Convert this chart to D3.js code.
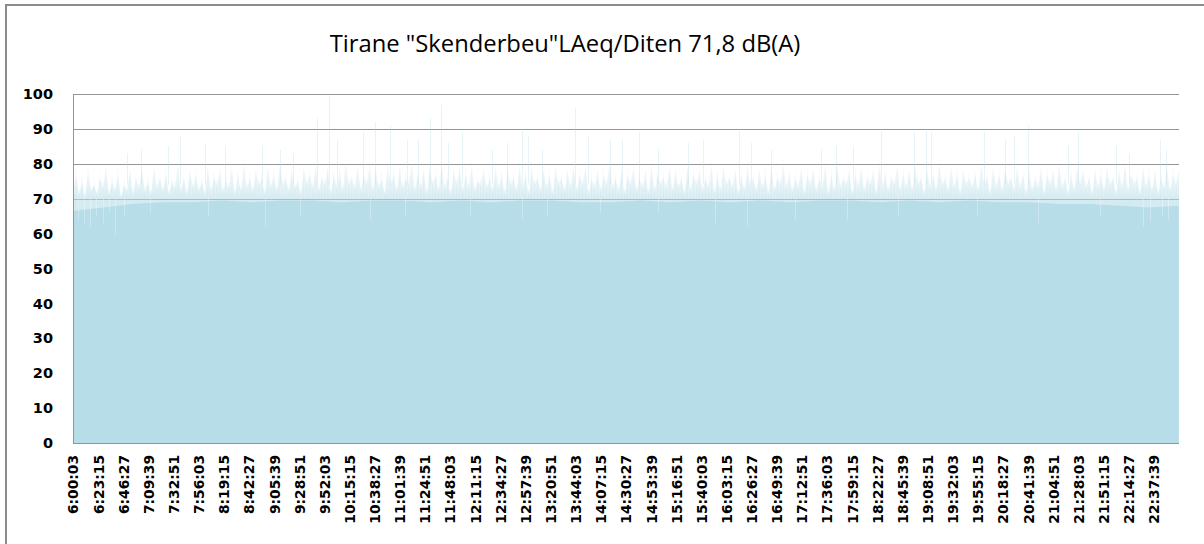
<!DOCTYPE html>
<html>
<head>
<meta charset="utf-8">
<script src="https://cdn.jsdelivr.net/npm/d3@7.9.0/dist/d3.min.js"></script>
<style>
  html, body { margin: 0; padding: 0; background: #fff; }
  svg { display: block; }
</style>
</head>
<body>
<div id="chart"></div>
<script>
/* ------------------------------
 Data
------------------------------ */
const title = 'Tirane "Skenderbeu"LAeq/Diten 71,8 dB(A)';

const tickLabels = [
  "6:00:03", "6:23:15", "6:46:27", "7:09:39", "7:32:51", "7:56:03", "8:19:15", "8:42:27",
  "9:05:39", "9:28:51", "9:52:03", "10:15:15", "10:38:27", "11:01:39", "11:24:51", "11:48:03",
  "12:11:15", "12:34:27", "12:57:39", "13:20:51", "13:44:03", "14:07:15", "14:30:27", "14:53:39",
  "15:16:51", "15:40:03", "16:03:15", "16:26:27", "16:49:39", "17:12:51", "17:36:03", "17:59:15",
  "18:22:27", "18:45:39", "19:08:51", "19:32:03", "19:55:15", "20:18:27", "20:41:39", "21:04:51",
  "21:28:03", "21:51:15", "22:14:27", "22:37:39"
];

const yTicks = [0, 10, 20, 30, 40, 50, 60, 70, 80, 90, 100];

// lower (solid) level, one reading every 1655 s from 6:00:03
const FLOOR_STEP = 1655;
const floorDb = [
  66.5, 67.5, 68.5, 69, 69, 69.5, 69, 69.5, 69.5, 69, 69.5, 69.5, 69, 69.5, 69, 69.5, 69.5, 69, 69,
  69.5, 69, 69.5, 69, 69.5, 69, 69.5, 69.5, 69, 69.5, 69, 69.5, 69, 69, 68.5, 68.5, 68, 67.5, 68
];

// short-term level, one reading every 166 s from 6:00:03
const LEVEL_STEP = 166;
const levelDb = [
  72, 77, 71, 75, 70, 78, 72, 74, 71, 76, 73, 79, 71, 75, 72, 77, 70, 74, 72, 78,
  71, 76, 73, 78, 72, 75, 71, 79, 73, 76, 72, 77, 71, 75, 73, 80, 72, 76, 71, 78,
  73, 77, 72, 75, 71, 79, 72, 76, 74, 78, 72, 75, 73, 79, 71, 77, 72, 80, 73, 76,
  72, 78, 74, 76, 71, 79, 73, 77, 72, 80, 74, 76, 72, 78, 73, 75, 71, 79, 74, 77,
  73, 80, 72, 76, 74, 79, 71, 77, 73, 78, 72, 81, 74, 76, 73, 79, 72, 77, 74, 80,
  72, 78, 73, 76, 71, 80, 74, 77, 72, 79, 73, 76, 74, 81, 72, 77, 73, 78, 71, 79,
  74, 77, 72, 80, 73, 76, 71, 78, 74, 79, 72, 77, 73, 80, 72, 75, 74, 78, 73, 76,
  72, 79, 73, 77, 71, 78, 74, 76, 72, 80, 73, 77, 71, 79, 74, 76, 72, 78, 73, 77,
  71, 79, 74, 76, 72, 78, 73, 80, 72, 77, 74, 79, 71, 76, 73, 78, 72, 77, 74, 80,
  73, 76, 72, 78, 71, 77, 74, 79, 72, 76, 73, 78, 71, 80, 72, 77, 74, 76, 73, 79,
  72, 78, 73, 76, 71, 79, 72, 77, 74, 78, 72, 76, 73, 80, 71, 77, 72, 79, 74, 76,
  73, 78, 71, 77, 72, 79, 74, 76, 72, 78, 73, 77, 71, 79, 72, 76, 74, 80, 73, 77,
  72, 76, 73, 79, 71, 77, 74, 78, 72, 76, 73, 80, 71, 77, 72, 79, 73, 76, 74, 78,
  71, 77, 73, 79, 72, 76, 74, 78, 71, 80, 73, 77, 72, 76, 74, 79, 72, 77, 73, 78,
  72, 79, 74, 76, 71, 78, 73, 77, 72, 80, 74, 76, 72, 79, 73, 77, 71, 78, 74, 76,
  73, 77, 72, 80, 74, 76, 71, 79, 73, 77, 72, 78, 74, 76, 72, 79, 73, 77, 71, 78,
  72, 76, 73, 79, 71, 77, 74, 78, 72, 80, 73, 76, 71, 77, 72, 79, 74, 78, 73, 76,
  71, 78, 73, 77, 72, 79, 74, 76, 71, 78, 73, 80, 72, 77, 74, 76, 71, 79, 73, 77,
  72, 78, 71, 76, 73, 79, 72, 77, 74, 78
];

// isolated peaks [time, dB]
const peaks = [
  ["6:49:57", 83], ["7:02:53", 84], ["7:27:50", 85], ["7:38:55", 88], ["8:02:01", 86],
  ["8:20:30", 85], ["8:54:41", 85], ["9:11:19", 84], ["9:23:20", 83], ["9:45:30", 93],
  ["9:56:36", 99.5], ["10:03:59", 87], ["10:28:01", 89], ["10:39:06", 92], ["10:52:57", 91],
  ["11:08:40", 87], ["11:18:50", 87], ["11:29:55", 93], ["11:40:05", 97], ["11:46:33", 86],
  ["11:59:29", 89], ["12:27:12", 84], ["12:41:04", 86], ["12:54:56", 90], ["13:00:28", 88],
  ["13:13:24", 84], ["13:42:58", 96], ["13:54:59", 88], ["14:15:19", 87], ["14:26:24", 87],
  ["14:42:07", 89], ["14:59:40", 84], ["15:27:23", 86], ["15:41:15", 87], ["16:14:31", 90],
  ["16:25:36", 86], ["16:44:05", 84], ["17:30:17", 84], ["17:44:08", 85], ["17:59:51", 85],
  ["18:25:43", 90], ["18:56:13", 89], ["19:07:18", 90], ["19:11:55", 89], ["20:00:53", 89],
  ["20:20:18", 87], ["20:28:37", 88], ["20:41:33", 91], ["21:18:30", 85], ["21:27:45", 89],
  ["22:02:51", 85], ["22:14:52", 83], ["22:43:31", 87], ["22:49:03", 84], ["23:01:04", 84]
];

// short quiet moments [time, dB]
const dips = [
  ["6:04:40", 64], ["6:10:12", 63], ["6:15:45", 62], ["6:21:17", 65], ["6:27:45", 63],
  ["6:33:17", 66], ["6:38:50", 59.5], ["6:47:08", 65], ["7:11:09", 66], ["8:04:42", 65],
  ["8:57:20", 62], ["9:29:39", 65], ["10:34:17", 64], ["11:06:36", 65], ["12:06:37", 65],
  ["12:54:38", 64], ["13:17:43", 65], ["14:06:39", 66], ["15:00:12", 66], ["15:52:50", 63],
  ["16:22:23", 62], ["17:06:42", 64], ["17:54:43", 64], ["18:41:48", 65], ["19:54:45", 65],
  ["20:51:04", 63], ["21:48:19", 65], ["22:28:01", 62], ["22:34:29", 63.5], ["22:45:34", 65],
  ["22:51:07", 64]
];

/* ------------------------------
 Helpers
------------------------------ */
function toSec(s) {
  const [h, m, sec] = s.split(":").map(Number);
  return h * 3600 + m * 60 + sec;
}

const t0 = toSec(tickLabels[0]);
const floorData = floorDb.map((v, i) => ({ t: t0 + i * FLOOR_STEP, v }));
const levelData = levelDb.map((v, i) => ({ t: t0 + i * LEVEL_STEP, v }));
const peakData = peaks.map(([t, v]) => ({ t: toSec(t), v }));
const dipData = dips.map(([t, v]) => ({ t: toSec(t), v }));

/* ------------------------------
 Chart
------------------------------ */
const width = 1204;
const height = 544;
const plot = { left: 73, right: 1179, top: 94, bottom: 443 };
const fill = "#b7dde8";
const gridColor = "#959595";

const svg = d3.select("#chart").append("svg")
  .attr("width", width)
  .attr("height", height);

// outer chart border
svg.append("rect")
  .attr("x", 6).attr("y", 5)
  .attr("width", 1230).attr("height", 560)
  .attr("fill", "none")
  .attr("stroke", "#8c8c8c")
  .attr("stroke-width", 2);

const tEnd = levelData[levelData.length - 1].t;

const x = d3.scaleLinear()
  .domain([t0, tEnd])
  .range([plot.left, plot.right]);

const y = d3.scaleLinear()
  .domain([0, 100])
  .range([plot.bottom, plot.top]);

const defs = svg.append("defs");
defs.append("clipPath").attr("id", "plot-clip")
  .append("rect")
  .attr("x", plot.left).attr("y", plot.top - 2)
  .attr("width", plot.right - plot.left)
  .attr("height", plot.bottom - plot.top + 2);

// fade of the noisy top fringe
const fade = defs.append("linearGradient")
  .attr("id", "fade")
  .attr("gradientUnits", "userSpaceOnUse")
  .attr("x1", 0).attr("x2", 0)
  .attr("y1", y(69)).attr("y2", y(81));
fade.append("stop").attr("offset", 0).attr("stop-color", fill).attr("stop-opacity", 0.8);
fade.append("stop").attr("offset", 0.35).attr("stop-color", fill).attr("stop-opacity", 0.5);
fade.append("stop").attr("offset", 1).attr("stop-color", fill).attr("stop-opacity", 0.1);

// gridlines (behind the fill)
svg.append("g")
  .selectAll("line")
  .data(yTicks.filter((d) => d > 0))
  .join("line")
  .attr("x1", plot.left)
  .attr("x2", plot.right)
  .attr("y1", (d) => Math.round(y(d)) + 0.5)
  .attr("y2", (d) => Math.round(y(d)) + 0.5)
  .attr("stroke", gridColor)
  .attr("stroke-width", 1);

const marks = svg.append("g").attr("clip-path", "url(#plot-clip)");

// short-term level texture
const area = d3.area()
  .x((d) => x(d.t))
  .y0(y(0))
  .y1((d) => y(d.v));

marks.append("path")
  .datum(levelData)
  .attr("d", area)
  .attr("fill", "url(#fade)")
  .attr("fill-opacity", 0.7);

// faint single lines per reading
marks.append("g")
  .selectAll("line")
  .data(levelData)
  .join("line")
  .attr("x1", (d) => x(d.t))
  .attr("x2", (d) => x(d.t))
  .attr("y1", y(60))
  .attr("y2", (d) => y(d.v + 1.5))
  .attr("stroke", "url(#fade)")
  .attr("stroke-opacity", 0.4)
  .attr("stroke-width", 1);

// solid lower level
marks.append("path")
  .datum(floorData)
  .attr("d", area)
  .attr("fill", fill);

// quiet moments: lighter streaks into the solid part
marks.append("g")
  .selectAll("line")
  .data(dipData)
  .join("line")
  .attr("x1", (d) => Math.round(x(d.t)) + 0.5)
  .attr("x2", (d) => Math.round(x(d.t)) + 0.5)
  .attr("y1", y(70))
  .attr("y2", (d) => y(d.v))
  .attr("stroke", "#fff")
  .attr("stroke-opacity", 0.3)
  .attr("stroke-width", 1);

// peaks
marks.append("g")
  .selectAll("line")
  .data(peakData)
  .join("line")
  .attr("x1", (d) => Math.round(x(d.t)) + 0.5)
  .attr("x2", (d) => Math.round(x(d.t)) + 0.5)
  .attr("y1", y(74))
  .attr("y2", (d) => y(d.v))
  .attr("stroke", fill)
  .attr("stroke-opacity", 0.35)
  .attr("stroke-width", 1);

// --- Axes ---
const yAxis = d3.axisLeft(y)
  .tickValues(yTicks)
  .tickSize(0)
  .tickPadding(20);

const yG = svg.append("g")
  .attr("transform", `translate(${plot.left},0)`)
  .call(yAxis);
yG.select(".domain")
  .attr("stroke", gridColor)
  .attr("d", `M0.5,${plot.top}V${plot.bottom}`);
yG.selectAll("text")
  .attr("font-family", "DejaVu Sans")
  .attr("font-weight", "bold")
  .attr("font-size", 14.5)
  .attr("fill", "#000");

const xAxis = d3.axisBottom(x)
  .tickValues(tickLabels.map(toSec))
  .tickFormat((d, i) => tickLabels[i])
  .tickSize(0);

const xG = svg.append("g")
  .attr("transform", `translate(0,${plot.bottom})`)
  .call(xAxis);
xG.select(".domain")
  .attr("stroke", gridColor)
  .attr("d", `M${plot.left},0.5H${plot.right}`);
xG.selectAll("text")
  .attr("font-family", "DejaVu Sans")
  .attr("font-weight", "bold")
  .attr("font-size", 13.8)
  .attr("fill", "#000")
  .attr("text-anchor", "end")
  .attr("transform", "translate(0,12) rotate(-90)")
  .attr("x", 0)
  .attr("y", 0)
  .attr("dy", "0.36em");

// --- Title ---
const titleText = svg.append("text")
  .attr("x", 565)
  .attr("y", 52)
  .attr("text-anchor", "middle")
  .attr("font-family", "Open Sans")
  .attr("font-size", 20)
  .attr("fill", "#000")
  .text(title);
const len = titleText.node().getComputedTextLength();
titleText.attr("font-size", 20 * 471 / len);
</script>
</body>
</html>
